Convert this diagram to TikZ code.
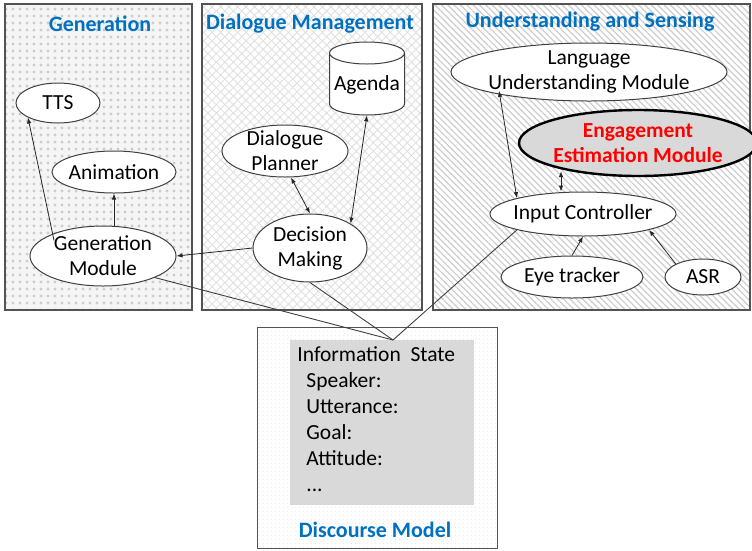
\documentclass[tikz,border=0pt]{standalone}
\usepackage{fontspec}
\setmainfont{Carlito}
\usetikzlibrary{arrows.meta, shapes.geometric, patterns.meta}
\definecolor{cblue}{HTML}{0070C0}
\definecolor{cred}{HTML}{FF0000}
\definecolor{cline}{HTML}{404040}
\definecolor{cbox}{HTML}{D9D9D9}
\tikzset{
  every picture/.style={line width=0.8pt},
  panel/.style={draw=cline!90, line width=1.3pt},
  title/.style={font=\fontsize{22}{26}\selectfont\bfseries, text=cblue},
  mod/.style={ellipse, draw=cline, fill=white, line width=1pt, align=center,
              inner xsep=-10pt, inner ysep=-8pt, font=\fontsize{21.5}{25}\selectfont},
  store/.style={inner sep=0pt, font=\fontsize{21.5}{25}\selectfont},
  drum/.style={draw=cline, fill=white, line width=1pt},
  arrow/.style={-{Latex[length=6pt,width=4.5pt]}, draw=black!85},
  both/.style={{Latex[length=6pt,width=4.5pt]}-{Latex[length=6pt,width=4.5pt]}, draw=black!85},
  link/.style={draw=cline, line width=0.9pt},
}

\begin{document}
\begin{tikzpicture}[x=1pt, y=-1pt]
  \useasboundingbox (0,0) rectangle (752,550);

  % panels
  \fill[black!4] (5,4) rectangle (192,310);
  \fill[pattern={Dots[distance=6.5pt, radius=1.8pt]}, pattern color=black!20] (5,4) rectangle (192,310);
  \draw[panel] (5,4) rectangle (192,310);
  \fill[pattern={Hatch[angle=45, distance=6pt, line width=0.9pt]}, pattern color=black!12] (202,4) rectangle (422,310);
  \draw[panel] (202,4) rectangle (422,310);
  \fill[pattern={Lines[angle=-45, distance=4.5pt, line width=1.2pt]}, pattern color=black!20] (433,4) rectangle (750,310);
  \draw[panel] (433,4) rectangle (750,310);
  \fill[pattern={Dots[distance=4pt, radius=0.8pt]}, pattern color=black!8] (257,327) rectangle (497,548);
  \draw[panel, line width=1pt] (257,327) rectangle (497,548);

  \node[title] at (100,24) {Generation};
  \node[title] at (310,24) {Dialogue Management};
  \node[title] at (590,22) {Understanding and Sensing};
  \node[title] at (375,530) {Discourse Model};

  % generation
  \node[mod, minimum width=84, minimum height=40] (tts) at (58,103) {TTS};
  \node[mod, minimum width=124, minimum height=42] (anim) at (114,172) {Animation};
  \node[mod, minimum width=146, minimum height=60] (gen) at (103,256) {Generation\\Module};

  % dialogue management
  \node[mod, minimum width=126, minimum height=52] (plan) at (285,151) {Dialogue\\Planner};
  \draw[drum] (329.5,53) -- (329.5,104) arc[start angle=180, end angle=0, x radius=37.5, y radius=11]
    -- (404.5,53) -- cycle;
  \draw[drum] (367,53) ellipse[x radius=37.5, y radius=11];
  \node[store, minimum width=75, minimum height=60] (agenda) at (367,85) {Agenda};
  \node[mod, minimum width=114, minimum height=68] (dec) at (310,248) {Decision\\Making};

  % understanding and sensing
  \node[mod, minimum width=276, minimum height=58, inner xsep=-25pt] (lu) at (589,72) {Language\\Understanding Module};
  \node[mod, minimum width=238, minimum height=66, fill=cbox, draw=black, line width=2.4pt,
        text=cred, font=\fontsize{21.5}{25}\selectfont\bfseries, inner xsep=-20pt] (eng) at (638,143) {Engagement\\Estimation Module};
  \node[mod, minimum width=186, minimum height=44] (ic) at (583,214) {Input Controller};
  \node[mod, minimum width=142, minimum height=42] (eye) at (572,277) {Eye tracker};
  \node[mod, minimum width=76, minimum height=36] (asr) at (703,277) {ASR};

  % discourse model
  \node[fill=cbox, minimum width=184, minimum height=165, anchor=north west, inner sep=0pt] (info) at (290,340) {};
  \node[anchor=north west, align=left, inner sep=0pt, font=\fontsize{21.5}{26}\selectfont] (fields) at (297,346)
    {Information\ \ State\\
     \hspace*{9pt}Speaker:\\
     \hspace*{9pt}Utterance:\\
     \hspace*{9pt}Goal:\\
     \hspace*{9pt}Attitude:\\
     \hspace*{9pt}...};
  \coordinate (hub) at (393,340);

  % connectors
  \draw[arrow] (gen.north west) ++(3,6) coordinate (g1) -- (tts.south west);
  \draw[arrow] (gen.north -| anim.south) -- (anim.south);
  \draw[arrow] (dec.west) -- (gen.east);
  \draw[both] (plan.south) ++(6,0) coordinate (p1) -- (dec.north);
  \draw[both] (agenda.south) -- (dec.north east);
  \draw[both] (lu.south west) ++(8,-2) coordinate (l1) -- (ic.north west);
  \draw[both] (eng.south west) ++(8,4) coordinate (e1) -- (e1 |- ic.north);
  \draw[arrow] (eye.north) -- (ic.south);
  \draw[arrow] (asr.north west) -- (ic.south east);

  \draw[link] (gen.south east) -- (hub);
  \draw[link] (dec.south) -- (hub);
  \draw[link] (ic.south west) -- (hub);
\end{tikzpicture}
\end{document}
